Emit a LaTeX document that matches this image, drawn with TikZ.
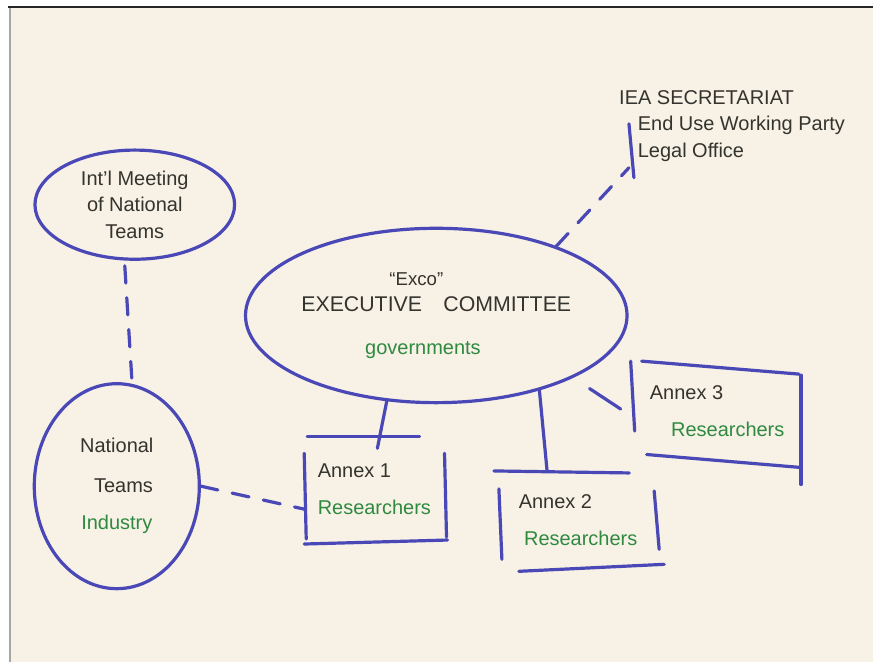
\documentclass[tikz,border=0pt]{standalone}
\usepackage{fontspec}
\setmainfont{Liberation Sans}
\usetikzlibrary{shapes.geometric}
\definecolor{paper}{HTML}{F7F1E6}
\definecolor{marker}{HTML}{4A47B6}
\definecolor{ink}{HTML}{34342E}
\definecolor{leaf}{HTML}{2F8A40}
\begin{document}
\begin{tikzpicture}[x=0.75pt,y=-0.75pt,
  pen/.style={draw=marker,line width=2.4pt,line cap=round},
  dashline/.style={pen,dash pattern=on 13pt off 11pt},
  blob/.style={pen,ellipse,inner sep=0pt,align=center},
  annexbox/.style={inner sep=0pt,align=left},
  txt/.style={text=ink,font=\fontsize{15}{20}\selectfont},
  green/.style={text=leaf}]
   \fill[white] (0,0) rectangle (874,663);
   \fill[paper] (10,7) rectangle (874,663);
   \draw[black!85,line width=2.2pt] (8,7) -- (874,7);
   \draw[black!35,line width=2pt] (10,8) -- (10,663);
   \node[blob,txt,minimum width=150pt,minimum height=82pt] (intl) at (135,205)
    {Int'l Meeting\\of National\\Teams};
   \node[blob,txt,minimum width=124pt,minimum height=154pt] (nat) at (117,487)
    {National\\[10pt]\hspace*{10pt}Teams\\[8pt]\textcolor{leaf}{Industry}};
   \node[blob,txt,minimum width=274pt,minimum height=131pt] (exco) at (437,316)
    {{\fontsize{14}{15}\selectfont``Exco''}\hspace*{30pt}\\{\fontsize{16}{18}\selectfont EXECUTIVE\quad COMMITTEE}\\[12pt]\textcolor{leaf}{governments}\hspace*{20pt}};
   \node[txt,anchor=north west,align=left,inner sep=0pt] (iea) at (620,90)
    {IEA SECRETARIAT\\\hspace*{14pt}End Use Working Party\\\hspace*{14pt}Legal Office};
   \node[annexbox,txt,minimum width=105pt,minimum height=79pt] (a1) at (375,490)
    {Annex 1\\[8pt]\textcolor{leaf}{Researchers}};
   \node[annexbox,txt,minimum width=121.5pt,minimum height=73.5pt] (a2) at (579,521)
    {Annex 2\\[8pt]\hspace*{4pt}\textcolor{leaf}{Researchers}};
   \node[annexbox,txt,minimum width=127.5pt,minimum height=75pt] (a3) at (717,412)
    {\hspace*{2pt}Annex 3\\[8pt]\hspace*{18pt}\textcolor{leaf}{Researchers}};
   \draw[pen] ([shift={(3,0)}]a1.north west) -- ([shift={(-25,0)}]a1.north east);
   \draw[pen] ([shift={(0,17)}]a1.north west) -- ([shift={(2,-3)}]a1.south west);
   \draw[pen] ([shift={(0,17)}]a1.north east) -- ([shift={(2,-5)}]a1.south east);
   \draw[pen] ([shift={(0,2)}]a1.south west) -- ([shift={(3,-2)}]a1.south east);
   \draw[pen] ([shift={(-3,0)}]a2.north west) -- ([shift={(-30,2)}]a2.north east);
   \draw[pen] ([shift={(2,18)}]a2.north west) -- ([shift={(5,-10)}]a2.south west);
   \draw[pen] ([shift={(-5,20)}]a2.north east) -- ([shift={(0,-20)}]a2.south east);
   \draw[pen] ([shift={(22,2)}]a2.south west) -- ([shift={(5,-5)}]a2.south east);
   \draw[pen] (a3.north west) -- ([shift={(4,70)}]a3.north west);
   \draw[pen] ([shift={(11,0)}]a3.north west) -- ([shift={(-2,13)}]a3.north east);
   \draw[pen] ([shift={(0,14)}]a3.north east) -- ([shift={(0,23)}]a3.south east);
   \draw[pen] ([shift={(16,-7)}]a3.south west) -- ([shift={(0,6)}]a3.south east);
   \draw[pen] ([shift={(10,34)}]iea.north west) -- ([shift={(15,88)}]iea.north west);
   \draw[dashline] ([shift={(-10,5)}]intl.south) -- ([shift={(15,-4)}]nat.north);
   \draw[dashline] (nat.east) -- ([shift={(0,20)}]a1.west);
   \draw[dashline] (exco.30) -- ([shift={(10,78)}]iea.north west);
   \draw[pen] (exco.240) -- ([shift={(3,12)}]a1.north);
   \draw[pen] (exco.324) -- ([shift={(-31,0)}]a2.north);
   \draw[pen] ([shift={(18,10)}]exco.335) -- ([shift={(-10,48)}]a3.north west);
\end{tikzpicture}
\end{document}
